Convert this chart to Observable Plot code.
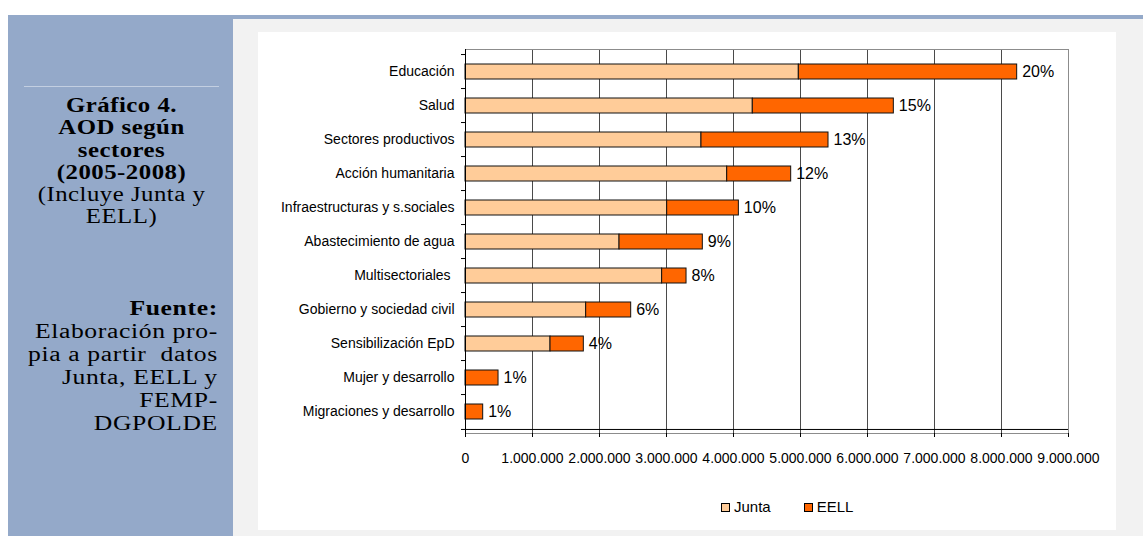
<!DOCTYPE html>
<html lang="es">
<head>
<meta charset="utf-8">
<title>AOD según sectores (2005-2008)</title>
<script src="https://cdn.jsdelivr.net/npm/d3@7"></script>
<script src="https://cdn.jsdelivr.net/npm/@observablehq/plot@0.6"></script>
<style>
  html, body { margin: 0; padding: 0; }
  body { width: 1143px; height: 536px; position: relative; overflow: hidden; background: #ffffff; }
  #strip { position: absolute; left: 10px; top: 15px; right: 0; height: 4px; background: #94a9c9; }
  #grey { position: absolute; left: 233px; top: 19px; right: 0; bottom: 0; background: #f2f2f2; }
  #side { position: absolute; left: 8px; top: 15px; width: 225px; bottom: 0; background: #94a9c9;
          font-family: "Liberation Serif", "Times New Roman", serif; color: #000; }
  #side .sep { position: absolute; left: 16px; top: 71px; width: 195px; height: 1px; background: #c3cfe1; }
  #side .title { position: absolute; left: 0; width: 227px; top: 79px; text-align: center;
                 font-size: 20px; line-height: 22.3px; letter-spacing: 0.4px;
                 transform: scaleX(1.24); transform-origin: 113.5px 0; }
  #side .source { position: absolute; right: 15px; top: 281.5px; text-align: right;
                  font-size: 20.5px; line-height: 23px; letter-spacing: 0.5px; white-space: pre;
                  transform: scaleX(1.25); transform-origin: right top; }
  #panel { position: absolute; left: 258px; top: 32px; width: 858px; height: 498px; background: #ffffff; }
  #panel svg text { white-space: pre; }
  #legend { position: absolute; left: 463px; top: 466px; display: flex; align-items: center;
            font-family: "Liberation Sans", Arial, sans-serif; font-size: 15px; line-height: 18px; }
  #legend .item { display: flex; align-items: center; margin-right: 33px; }
  #legend .sw { width: 7px; height: 7px; border: 1px solid #000; margin-right: 4px; }
</style>
</head>
<body>
<div id="strip"></div>
<div id="grey"></div>
<div id="side">
  <div class="sep"></div>
  <div class="title"><b>Gráfico 4.<br>AOD según<br>sectores<br>(2005-2008)</b><br>(Incluye Junta y<br>EELL)</div>
  <div class="source"><b>Fuente:</b>
Elaboración pro-
pia a partir  datos
Junta, EELL y
FEMP-
DGPOLDE</div>
</div>
<div id="panel">
  <div id="chart"></div>
  <div id="legend"></div>
</div>
<script>
// Sectors, top to bottom
const sectors = [
  "Educación",
  "Salud",
  "Sectores productivos",
  "Acción humanitaria",
  "Infraestructuras y s.sociales",
  "Abastecimiento de agua",
  "Multisectoriales ",
  "Gobierno y sociedad civil",
  "Sensibilización EpD",
  "Mujer y desarrollo",
  "Migraciones y desarrollo"
];

// Funding by source (euros, 2005-2008)
const junta = [4975000, 4288000, 3522000, 3906000, 3010000, 2299000, 2935000, 1801000, 1269000, 0, 0];
const eell  = [3259000, 2105000, 1896000,  955000, 1070000, 1243000,  364000,  672000,  497000, 493000, 264000];

// Share of total shown at the end of each bar
const shares = ["20%", "15%", "13%", "12%", "10%", "9%", "8%", "6%", "4%", "1%", "1%"];

const series = ["Junta", "EELL"];
const seriesColors = ["#ffcc99", "#ff6600"];

const xTicks = [0, 1000000, 2000000, 3000000, 4000000, 5000000, 6000000, 7000000, 8000000, 9000000];

// Long table for the stacked bars
const rows = [];
series.forEach((s, k) => {
  const vals = k === 0 ? junta : eell;
  sectors.forEach((sector, i) => rows.push({sector, serie: s, value: vals[i]}));
});
const totals = sectors.map((sector, i) => ({sector, total: junta[i] + eell[i], share: shares[i]}));

const es = d3.formatLocale({decimal: ",", thousands: ".", grouping: [3], currency: ["", " €"]});
const fmt = es.format(",");

const width = 858, height = 450;
const marginLeft = 207, marginRight = 48, marginTop = 17, marginBottom = 49;
const step = (height - marginTop - marginBottom) / sectors.length;

const chart = Plot.plot({
  width, height, marginLeft, marginRight, marginTop, marginBottom,
  style: {fontFamily: "'Liberation Sans', Arial, sans-serif", fontSize: "14px", color: "#000", background: "#fff", overflow: "visible"},
  x: {domain: [0, 9000000], axis: null, label: null},
  y: {domain: sectors, paddingInner: 0.57, paddingOuter: 0.285, axis: null, label: null},
  color: {domain: series, range: seriesColors},
  marks: [
    Plot.gridX(xTicks.slice(1, -1), {stroke: "#4a4a4a", strokeOpacity: 1}),
    Plot.frame({stroke: "#8c8c8c"}),
    Plot.barX(rows, Plot.stackX({x: "value", y: "sector", fill: "serie", stroke: "#111", strokeWidth: 1, order: series})),
    Plot.text(totals, {x: "total", y: "sector", text: "share", textAnchor: "start", dx: 5, fontSize: 16, fill: "#000"}),
    // axes
    Plot.ruleX([0], {stroke: "#000"}),
    Plot.ruleY([sectors[sectors.length - 1]], {dy: step / 2, stroke: "#000"}),
    Plot.axisX({ticks: xTicks, tickSize: 4, tickPadding: 16, tickFormat: fmt, fontSize: 14, stroke: "#000", fill: "#000", label: null}),
    Plot.axisY({tickSize: 0, tickPadding: 11, fontSize: 14, fill: "#000", label: null}),
    Plot.axisY({tickSize: 4, dy: -step / 2, fill: "none", stroke: "#000", label: null}),
    Plot.axisY({ticks: [sectors[sectors.length - 1]], tickSize: 4, dy: step / 2, fill: "none", stroke: "#000", label: null})
  ]
});
document.getElementById("chart").appendChild(chart);

// Legend below the chart
const legend = document.getElementById("legend");
series.forEach((s, k) => {
  const item = document.createElement("div");
  item.className = "item";
  const sw = document.createElement("span");
  sw.className = "sw";
  sw.style.background = seriesColors[k];
  const label = document.createElement("span");
  label.textContent = s;
  item.append(sw, label);
  legend.appendChild(item);
});
</script>
</body>
</html>
